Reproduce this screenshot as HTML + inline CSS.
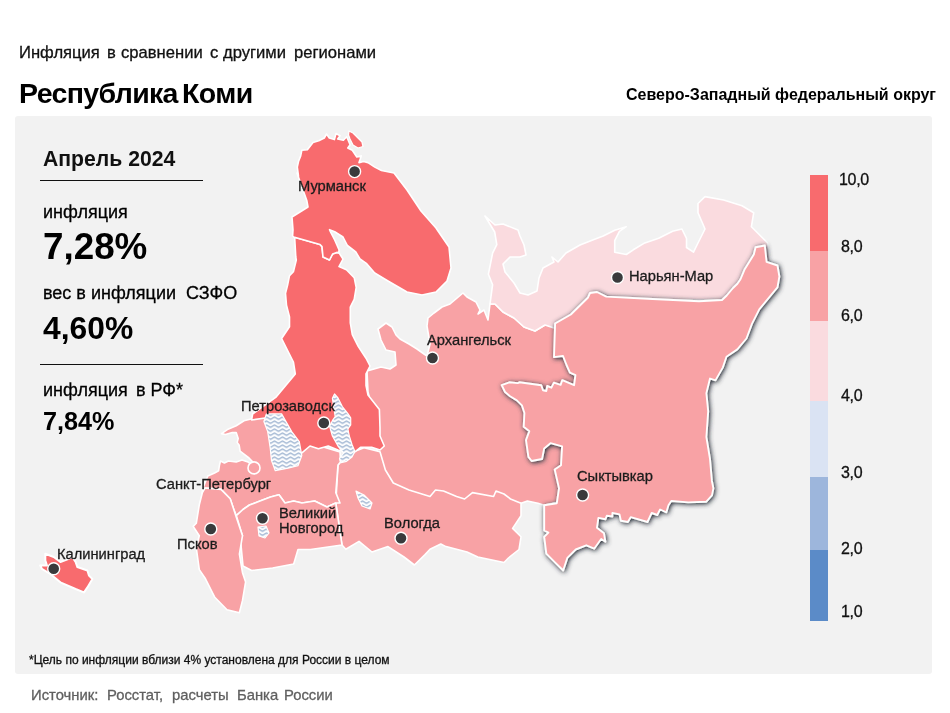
<!DOCTYPE html>
<html><head><meta charset="utf-8">
<style>
html,body{margin:0;padding:0;background:#fff;width:950px;height:713px;overflow:hidden;font-family:"Liberation Sans",sans-serif;}
.t{position:absolute;white-space:pre;line-height:1;will-change:transform;}
#panel{position:absolute;left:15px;top:116px;width:917px;height:558px;background:#f2f2f2;border-radius:3px;}
svg{position:absolute;left:0;top:0;}
</style></head><body>
<div class="t" style="left:19.0px;top:45.05px;font-size:16.6px;font-weight:normal;color:#111;;-webkit-text-stroke:0.3px #111">Инфляция</div>
<div class="t" style="left:107.0px;top:45.05px;font-size:16.6px;font-weight:normal;color:#111;;-webkit-text-stroke:0.3px #111">в</div>
<div class="t" style="left:120.6px;top:45.05px;font-size:16.6px;font-weight:normal;color:#111;;-webkit-text-stroke:0.3px #111">сравнении</div>
<div class="t" style="left:209.6px;top:45.05px;font-size:16.6px;font-weight:normal;color:#111;;-webkit-text-stroke:0.3px #111">с</div>
<div class="t" style="left:222.6px;top:45.05px;font-size:16.6px;font-weight:normal;color:#111;;-webkit-text-stroke:0.3px #111">другими</div>
<div class="t" style="left:294.4px;top:45.05px;font-size:16.6px;font-weight:normal;color:#111;;-webkit-text-stroke:0.3px #111">регионами</div>
<div class="t" style="left:18.6px;top:78.57px;font-size:28.5px;font-weight:bold;color:#000;letter-spacing:-0.65px">Республика</div>
<div class="t" style="left:182.2px;top:78.57px;font-size:28.5px;font-weight:bold;color:#000;letter-spacing:-0.6px">Коми</div>
<div class="t" style="left:626px;top:87.26px;font-size:16px;font-weight:bold;color:#000;">Северо-Западный федеральный округ</div>
<div id="panel"></div>
<div class="t" style="left:43.2px;top:147.65px;font-size:21.2px;font-weight:bold;color:#111;">Апрель 2024</div>
<div style="position:absolute;left:40px;top:180px;width:163px;height:1px;background:#111"></div>
<div class="t" style="left:42.7px;top:202.76px;font-size:18px;font-weight:normal;color:#000;;-webkit-text-stroke:0.3px #000">инфляция</div>
<div class="t" style="left:42.5px;top:228.85px;font-size:36.8px;font-weight:bold;color:#000;">7,28%</div>
<div class="t" style="left:43.2px;top:284.06px;font-size:18px;font-weight:normal;color:#000;;-webkit-text-stroke:0.3px #000">вес в инфляции  СЗФО</div>
<div class="t" style="left:42.5px;top:313.28px;font-size:31.8px;font-weight:bold;color:#000;">4,60%</div>
<div style="position:absolute;left:40px;top:364px;width:163px;height:1px;background:#111"></div>
<div class="t" style="left:42.7px;top:381.36px;font-size:18px;font-weight:normal;color:#000;;-webkit-text-stroke:0.3px #000">инфляция</div>
<div class="t" style="left:135.5px;top:381.36px;font-size:18px;font-weight:normal;color:#000;;-webkit-text-stroke:0.3px #000">в РФ*</div>
<div class="t" style="left:42.5px;top:408.67px;font-size:25.2px;font-weight:bold;color:#000;">7,84%</div>
<div class="t" style="left:29.2px;top:654.14px;font-size:12px;font-weight:normal;color:#111;;-webkit-text-stroke:0.3px #111">*Цель по инфляции вблизи 4% установлена для России в целом</div>
<div class="t" style="left:30.9px;top:688.27px;font-size:14.8px;font-weight:normal;color:#5f5f5f;;-webkit-text-stroke:0.3px #5f5f5f">Источник:</div>
<div class="t" style="left:107.0px;top:688.27px;font-size:14.8px;font-weight:normal;color:#5f5f5f;;-webkit-text-stroke:0.3px #5f5f5f">Росстат,</div>
<div class="t" style="left:172.0px;top:688.27px;font-size:14.8px;font-weight:normal;color:#5f5f5f;;-webkit-text-stroke:0.3px #5f5f5f">расчеты</div>
<div class="t" style="left:236.5px;top:688.27px;font-size:14.8px;font-weight:normal;color:#5f5f5f;;-webkit-text-stroke:0.3px #5f5f5f">Банка</div>
<div class="t" style="left:284.3px;top:688.27px;font-size:14.8px;font-weight:normal;color:#5f5f5f;;-webkit-text-stroke:0.3px #5f5f5f">России</div>
<div style="position:absolute;left:810px;top:175px;width:18px;height:76px;background:#f86b6e"></div>
<div style="position:absolute;left:810px;top:251px;width:18px;height:70px;background:#f8a2a5"></div>
<div style="position:absolute;left:810px;top:321px;width:18px;height:80px;background:#fadbdf"></div>
<div style="position:absolute;left:810px;top:401px;width:18px;height:76px;background:#dae3f3"></div>
<div style="position:absolute;left:810px;top:477px;width:18px;height:73px;background:#9db6dc"></div>
<div style="position:absolute;left:810px;top:550px;width:18px;height:71px;background:#5b8bc8"></div>
<div class="t" style="left:839px;top:172.46px;font-size:16px;font-weight:normal;color:#111;letter-spacing:-0.3px;-webkit-text-stroke:0.3px #111">10,0</div>
<div class="t" style="left:841px;top:239.06px;font-size:16px;font-weight:normal;color:#111;letter-spacing:-0.3px;-webkit-text-stroke:0.3px #111">8,0</div>
<div class="t" style="left:841px;top:307.96px;font-size:16px;font-weight:normal;color:#111;letter-spacing:-0.3px;-webkit-text-stroke:0.3px #111">6,0</div>
<div class="t" style="left:841px;top:388.46px;font-size:16px;font-weight:normal;color:#111;letter-spacing:-0.3px;-webkit-text-stroke:0.3px #111">4,0</div>
<div class="t" style="left:841px;top:465.46px;font-size:16px;font-weight:normal;color:#111;letter-spacing:-0.3px;-webkit-text-stroke:0.3px #111">3,0</div>
<div class="t" style="left:841px;top:541.46px;font-size:16px;font-weight:normal;color:#111;letter-spacing:-0.3px;-webkit-text-stroke:0.3px #111">2,0</div>
<div class="t" style="left:841px;top:604.16px;font-size:16px;font-weight:normal;color:#111;letter-spacing:-0.3px;-webkit-text-stroke:0.3px #111">1,0</div>
<svg width="950" height="713" viewBox="0 0 950 713">
<defs>
<pattern id="wv" width="8" height="4" patternUnits="userSpaceOnUse" x="0.5" y="0.3"><rect width="8" height="4" fill="#fff"/><path d="M-2,3.2 L2,0.7 L6,3.2 L10,0.7" fill="none" stroke="#3563a0" stroke-width="0.75" stroke-linejoin="round"/></pattern>
<filter id="sh" x="-10%" y="-10%" width="130%" height="130%"><feGaussianBlur in="SourceAlpha" stdDeviation="2.5"/><feOffset dx="0.9" dy="1.3" result="b"/><feFlood flood-color="#3a404a"/><feComposite in2="b" operator="in"/><feComponentTransfer><feFuncA type="linear" slope="1.25"/></feComponentTransfer><feMerge><feMergeNode/><feMergeNode in="SourceGraphic"/></feMerge></filter>
</defs>
<path d="M367.0,371.0 L381.0,367.0 L390.0,369.0 L396.0,365.0 L395.0,352.0 L386.0,350.0 L381.0,340.0 L378.0,329.0 L386.0,323.0 L392.0,327.0 L396.0,335.0 L400.0,339.0 L409.0,344.0 L417.0,349.0 L424.0,354.0 L427.0,356.0 L430.0,344.0 L427.0,326.0 L428.0,318.0 L434.0,313.0 L442.0,307.0 L450.0,304.0 L463.0,293.0 L467.0,297.0 L476.0,302.0 L480.0,310.0 L478.0,314.0 L484.0,310.0 L488.0,320.0 L490.0,304.0 L495.0,304.0 L503.0,312.0 L514.0,318.0 L524.0,327.0 L535.0,331.0 L545.0,325.0 L555.0,323.0 L580.0,310.0 L620.0,400.0 L600.0,480.0 L565.0,500.0 L544.2,505.3 L537.9,503.2 L527.4,501.0 L521.0,503.2 L500.0,500.0 L430.0,505.0 L390.0,492.0 L378.0,455.0 L375.0,420.0 L368.0,392.0 Z" fill="#f8a2a5" stroke="#fff" stroke-width="1.6" stroke-linejoin="round" />
<path d="M485.0,216.0 L495.0,225.0 L503.0,224.0 L518.0,230.0 L520.0,236.0 L524.0,245.0 L526.0,255.0 L520.0,257.0 L510.0,257.0 L503.0,264.0 L505.0,272.0 L514.0,283.0 L520.0,293.0 L528.0,295.0 L537.0,291.0 L539.0,278.0 L543.0,268.0 L554.0,262.0 L552.0,257.0 L558.0,262.0 L566.0,253.0 L580.0,245.0 L594.0,239.4 L603.2,236.0 L614.7,230.2 L626.3,226.7 L619.4,231.3 L614.7,240.6 L614.7,252.2 L626.3,254.5 L633.3,249.8 L644.8,242.9 L658.7,238.3 L672.6,231.3 L681.9,229.0 L686.5,238.3 L686.5,247.5 L693.5,252.2 L698.0,243.0 L705.0,229.0 L698.0,212.8 L698.0,203.5 L705.0,196.6 L723.6,200.0 L742.0,205.8 L753.7,212.8 L751.4,226.7 L760.6,236.0 L767.6,243.0 L770.0,260.0 L740.0,300.0 L600.0,300.0 L560.0,330.0 L545.0,325.0 L535.0,331.0 L524.0,327.0 L514.0,318.0 L503.0,312.0 L495.0,304.0 L490.0,304.0 L492.6,284.7 L488.4,274.2 L492.6,253.2 L496.8,244.7 L494.7,232.0 Z" fill="#fadbdf" stroke="#fff" stroke-width="1.6" stroke-linejoin="round" />
<path d="M340.5,462.0 L353.7,451.7 L364.0,447.7 L380.0,451.7 L385.4,470.0 L393.3,483.0 L409.0,490.0 L430.0,496.5 L435.5,490.0 L443.5,491.0 L456.6,496.5 L464.6,499.0 L472.5,492.6 L493.6,496.5 L496.0,491.0 L504.0,494.0 L510.5,499.0 L521.0,503.2 L521.0,515.8 L512.6,528.4 L521.0,536.8 L519.0,549.5 L508.4,558.0 L504.0,562.5 L477.8,557.0 L467.0,552.0 L446.0,546.6 L440.8,544.0 L430.0,549.3 L425.0,554.6 L414.4,565.0 L404.0,557.0 L388.0,546.6 L372.0,552.0 L359.0,541.4 L345.8,549.3 L342.0,545.0 L335.8,503.0 L338.0,465.0 Z" fill="#f8a2a5" stroke="#fff" stroke-width="1.6" stroke-linejoin="round" />
<path d="M221.5,433.6 L227.4,429.6 L236.2,425.7 L244.0,420.8 L252.0,418.8 L264.0,417.0 L300.0,440.0 L340.0,452.0 L340.5,462.0 L338.0,465.0 L335.8,492.6 L340.0,503.0 L335.8,503.0 L327.0,507.0 L314.7,501.0 L302.0,503.0 L293.7,501.0 L285.0,503.0 L279.0,494.7 L270.5,497.0 L260.0,501.0 L249.5,505.0 L243.0,509.5 L236.3,515.6 L233.3,508.0 L230.2,498.7 L221.0,489.4 L205.0,488.0 L201.5,498.7 L202.7,488.6 L207.8,476.0 L214.6,473.0 L218.6,470.8 L219.5,465.0 L220.5,461.0 L224.4,463.0 L228.4,461.0 L236.2,462.0 L242.0,460.0 L248.0,462.0 L254.0,467.0 L252.9,462.0 L249.0,458.0 L244.0,454.2 L240.1,451.2 L239.2,445.3 L237.2,442.4 L238.2,438.5 L236.2,432.6 L232.3,432.6 L225.4,434.5 Z" fill="#f8a2a5" stroke="#fff" stroke-width="1.6" stroke-linejoin="round" />
<path d="M236.3,515.6 L243.0,509.5 L249.5,505.0 L260.0,501.0 L270.5,497.0 L279.0,494.7 L285.0,503.0 L293.7,501.0 L302.0,503.0 L314.7,501.0 L327.0,507.0 L335.8,503.0 L342.0,545.0 L310.5,549.5 L298.0,549.5 L293.7,564.0 L272.6,568.0 L251.6,570.5 L243.0,566.0 L241.0,545.0 L237.0,530.5 L242.5,535.7 Z" fill="#f8a2a5" stroke="#fff" stroke-width="1.6" stroke-linejoin="round" />
<path d="M221.0,489.4 L230.2,498.7 L233.3,508.0 L236.3,517.2 L242.5,535.7 L239.4,554.2 L242.5,572.7 L245.6,582.0 L242.5,600.4 L239.4,612.8 L227.0,609.7 L214.8,597.3 L205.5,578.8 L199.3,569.6 L196.3,548.0 L199.3,535.7 L193.2,526.4 L196.3,523.3 L199.3,504.8 L202.4,492.5 L205.0,488.0 Z" fill="#f8a2a5" stroke="#fff" stroke-width="1.6" stroke-linejoin="round" />
<path d="M293.7,237.0 L320.0,244.5 L322.0,246.6 L323.0,257.0 L329.5,260.0 L332.6,254.0 L336.8,252.4 L339.0,252.9 L343.0,259.0 L339.0,266.6 L346.4,269.8 L354.2,277.7 L356.2,287.5 L354.2,299.3 L350.3,307.1 L350.3,322.8 L352.3,334.6 L358.2,346.4 L366.0,358.2 L370.0,366.0 L366.0,373.9 L366.0,385.7 L368.0,395.0 L379.4,409.6 L380.0,427.7 L380.0,436.0 L384.3,446.0 L380.0,450.0 L371.7,447.3 L360.5,447.3 L353.5,453.0 L338.0,450.0 L328.2,446.0 L318.4,448.7 L310.0,446.0 L301.0,453.7 L290.0,450.0 L265.0,418.0 L251.6,420.0 L252.6,414.0 L275.7,397.4 L285.5,385.7 L295.3,373.9 L293.4,362.0 L285.5,346.4 L281.6,338.5 L289.5,326.8 L289.5,317.0 L286.5,305.2 L285.5,293.4 L287.5,285.5 L289.5,275.7 L293.4,271.8 L296.3,260.0 L295.8,257.0 L294.7,238.0 Z" fill="#f86b6e" stroke="#fff" stroke-width="1.6" stroke-linejoin="round" />
<path d="M298.5,176.1 L297.3,167.1 L298.5,161.5 L300.7,155.9 L301.8,150.3 L307.4,149.7 L313.0,142.4 L318.7,140.8 L324.3,138.0 L326.5,134.0 L329.3,138.0 L334.4,139.6 L336.0,133.5 L340.0,135.7 L337.7,139.0 L343.4,140.2 L346.7,136.8 L350.1,144.7 L347.8,148.0 L352.3,150.3 L356.8,157.0 L361.3,155.9 L359.0,162.6 L363.6,161.5 L368.0,162.6 L374.8,167.1 L381.5,170.5 L394.0,173.0 L407.0,190.0 L421.0,211.0 L436.0,228.0 L438.0,231.0 L449.0,247.0 L451.0,268.0 L447.0,281.0 L436.0,292.0 L422.0,295.0 L407.0,292.0 L388.0,281.0 L374.7,273.0 L366.3,263.4 L360.0,259.0 L355.8,252.0 L347.4,245.5 L343.0,237.0 L334.7,231.8 L329.5,229.7 L330.5,231.8 L334.7,240.0 L339.0,249.7 L339.0,252.9 L336.8,252.4 L332.6,254.0 L329.5,260.0 L323.0,257.0 L322.0,246.6 L320.0,244.5 L293.7,237.0 L292.6,236.0 L293.0,230.0 L292.0,217.0 L308.0,207.0 L306.8,200.5 L297.0,173.0 Z" fill="#f86b6e" stroke="#fff" stroke-width="1.6" stroke-linejoin="round" />
<path d="M45.3,553.7 L53.7,557.0 L60.4,562.0 L68.8,558.7 L72.2,557.0 L75.6,562.0 L77.3,567.0 L87.4,570.5 L89.0,575.6 L92.4,579.0 L87.4,587.4 L84.0,592.4 L75.6,589.0 L60.4,582.3 L50.3,574.0 L41.9,568.8 L40.2,565.5 L47.0,565.5 L45.3,560.4 Z" fill="#f86b6e" stroke="#fff" stroke-width="2" stroke-linejoin="round" />
<path d="M349.0,131.0 L353.0,133.0 L358.0,138.0 L362.0,142.0 L363.0,146.5 L358.0,148.0 L353.0,145.0 L350.0,139.0 L348.5,135.0 Z" fill="#f86b6e" stroke="#fff" stroke-width="1.3" stroke-linejoin="round" />
<path d="M266.4,413.9 L281.6,413.9 L291.7,431.6 L299.3,441.7 L301.8,455.6 L298.0,465.7 L287.9,468.2 L275.3,470.7 L271.5,460.6 L270.2,448.0 L267.7,431.6 L263.9,421.5 Z" fill="url(#wv)" stroke="#fff" stroke-width="1.2" stroke-linejoin="round" />
<path d="M334.5,394.0 L338.0,398.0 L342.3,406.6 L347.9,413.7 L350.7,417.9 L350.7,424.9 L347.9,429.0 L349.3,436.0 L352.0,444.5 L354.9,451.5 L352.0,457.0 L346.5,461.3 L340.9,462.7 L339.5,458.5 L343.7,453.0 L338.0,446.0 L332.4,436.0 L329.6,426.3 L332.4,420.7 L335.2,416.5 L333.8,408.0 L332.4,398.2 Z" fill="url(#wv)" stroke="#fff" stroke-width="1.2" stroke-linejoin="round" />
<path d="M258.0,527.0 L266.0,526.0 L269.0,533.0 L265.0,538.0 L259.0,536.0 Z" fill="url(#wv)" stroke="#fff" stroke-width="1.2" stroke-linejoin="round" />
<path d="M356.0,491.0 L364.0,495.0 L372.0,503.0 L370.0,509.0 L362.0,506.0 L358.0,498.0 Z" fill="url(#wv)" stroke="#fff" stroke-width="1.2" stroke-linejoin="round" />
<path d="M555.1,323.5 L570.8,314.5 L587.8,297.8 L590.0,293.0 L597.0,292.0 L606.3,296.6 L652.6,299.0 L699.0,301.3 L722.0,300.0 L726.7,295.5 L733.0,288.0 L737.4,283.8 L740.6,279.0 L744.7,269.2 L753.8,254.6 L755.6,247.3 L764.8,245.5 L766.6,261.9 L777.5,265.5 L779.4,276.5 L777.5,287.4 L768.4,298.4 L759.3,309.3 L752.0,323.9 L746.5,338.5 L737.4,349.4 L726.5,356.7 L722.8,367.6 L715.5,380.4 L710.0,378.6 L706.4,393.2 L708.2,411.4 L706.4,437.0 L710.0,458.8 L711.9,480.7 L713.4,488.4 L712.0,495.4 L706.4,501.7 L688.2,502.4 L671.3,501.0 L668.5,505.2 L666.4,512.3 L660.1,509.5 L657.3,515.0 L651.7,513.0 L647.5,522.0 L630.7,517.2 L627.9,522.0 L620.9,520.7 L619.5,514.4 L612.4,513.0 L612.4,516.5 L606.8,515.8 L605.4,519.3 L598.4,517.9 L597.0,527.7 L604.0,533.3 L605.4,541.7 L601.2,539.0 L594.2,548.7 L586.3,545.3 L575.8,549.5 L567.4,557.9 L563.2,570.5 L554.7,562.1 L546.3,553.7 L544.2,536.8 L548.4,532.6 L544.2,530.5 L544.2,505.3 L556.8,503.2 L559.0,488.4 L554.7,469.5 L561.0,465.3 L562.1,446.3 L550.5,443.2 L544.2,448.4 L542.1,459.0 L531.6,461.0 L528.4,456.8 L526.0,440.2 L529.3,431.2 L523.7,426.7 L524.4,413.0 L521.9,405.4 L516.8,400.4 L510.0,396.2 L505.0,392.0 L501.7,385.2 L509.3,382.3 L517.7,383.1 L519.4,382.3 L541.3,385.2 L543.0,390.3 L546.3,391.0 L547.2,386.0 L551.4,387.7 L553.9,382.7 L560.6,384.8 L562.3,380.2 L574.1,385.2 L575.4,375.1 L569.9,372.6 L566.5,365.0 L563.0,356.0 L554.0,357.1 Z" fill="#f8a2a5" stroke="#fff" stroke-width="1.9" stroke-linejoin="round" filter="url(#sh)"/>
<circle cx="254" cy="467.9" r="6" fill="#f8a2a5" stroke="#fff" stroke-width="1.6"/>
<circle cx="354.6" cy="171.6" r="6" fill="#3a3a3c" stroke="#fff" stroke-width="1.4"/>
<circle cx="323.8" cy="423" r="6" fill="#3a3a3c" stroke="#fff" stroke-width="1.4"/>
<circle cx="432.5" cy="358" r="6" fill="#3a3a3c" stroke="#fff" stroke-width="1.4"/>
<circle cx="617.5" cy="277.5" r="6" fill="#3a3a3c" stroke="#fff" stroke-width="1.4"/>
<circle cx="582.6" cy="495" r="6" fill="#3a3a3c" stroke="#fff" stroke-width="1.4"/>
<circle cx="262.5" cy="518.3" r="6" fill="#3a3a3c" stroke="#fff" stroke-width="1.4"/>
<circle cx="210.8" cy="529" r="6" fill="#3a3a3c" stroke="#fff" stroke-width="1.4"/>
<circle cx="401" cy="538.2" r="6" fill="#3a3a3c" stroke="#fff" stroke-width="1.4"/>
<circle cx="53.7" cy="568.8" r="6" fill="#3a3a3c" stroke="#fff" stroke-width="1.4"/>
</svg>
<div class="t" style="left:298.4px;top:179.26px;font-size:14.7px;font-weight:normal;color:#1c1c1c;;-webkit-text-stroke:0.3px #1c1c1c">Мурманск</div>
<div class="t" style="left:426.8px;top:332.96px;font-size:14.7px;font-weight:normal;color:#1c1c1c;;-webkit-text-stroke:0.3px #1c1c1c">Архангельск</div>
<div class="t" style="left:628.6px;top:269.36px;font-size:14.7px;font-weight:normal;color:#1c1c1c;;-webkit-text-stroke:0.3px #1c1c1c">Нарьян-Мар</div>
<div class="t" style="left:241px;top:399.16px;font-size:14.7px;font-weight:normal;color:#1c1c1c;;-webkit-text-stroke:0.3px #1c1c1c">Петрозаводск</div>
<div class="t" style="left:576.8px;top:468.56px;font-size:14.7px;font-weight:normal;color:#1c1c1c;;-webkit-text-stroke:0.3px #1c1c1c">Сыктывкар</div>
<div class="t" style="left:155.5px;top:476.96px;font-size:14.7px;font-weight:normal;color:#1c1c1c;;-webkit-text-stroke:0.3px #1c1c1c">Санкт-Петербург</div>
<div class="t" style="left:279px;top:505.56px;font-size:14.7px;font-weight:normal;color:#1c1c1c;;-webkit-text-stroke:0.3px #1c1c1c">Великий</div>
<div class="t" style="left:279px;top:521.26px;font-size:14.7px;font-weight:normal;color:#1c1c1c;;-webkit-text-stroke:0.3px #1c1c1c">Новгород</div>
<div class="t" style="left:177px;top:537.06px;font-size:14.7px;font-weight:normal;color:#1c1c1c;;-webkit-text-stroke:0.3px #1c1c1c">Псков</div>
<div class="t" style="left:384px;top:515.56px;font-size:14.7px;font-weight:normal;color:#1c1c1c;;-webkit-text-stroke:0.3px #1c1c1c">Вологда</div>
<div class="t" style="left:57.4px;top:546.56px;font-size:14.7px;font-weight:normal;color:#1c1c1c;;-webkit-text-stroke:0.3px #1c1c1c">Калининград</div>
</body></html>
